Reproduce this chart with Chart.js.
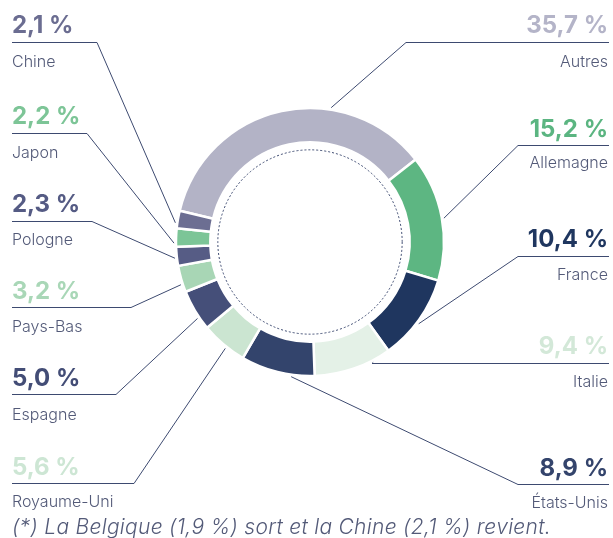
<!DOCTYPE html>
<html>
<head>
<meta charset="utf-8">
<script src="https://cdn.jsdelivr.net/npm/chart.js@4.4.1/dist/chart.umd.min.js"></script>
<style>
html,body{margin:0;padding:0;background:#fff;}
#wrap{width:613px;height:538px;position:relative;}
</style>
</head>
<body>
<div id="wrap"><canvas id="c" width="613" height="538"></canvas></div>
<script>
// ---- data ----
const categories = ['Autres','Allemagne','France','Italie','États-Unis','Royaume-Uni','Espagne','Pays-Bas','Pologne','Japon','Chine'];
const values = [35.7, 15.2, 10.4, 9.4, 8.9, 5.6, 5.0, 3.2, 2.3, 2.2, 2.1];
const footnote = '(*) La Belgique (1,9 %) sort et la Chine (2,1 %) revient.';

// ---- styles ----
const segColors = ['#b3b3c6','#5db682','#1f365f','#e4f1e7','#33446c','#cbe5d1','#454f79','#a8d6b5','#565c85','#7cc597','#6c6e92'];
const valueColors = ['#b4b4c8','#5bb581','#1f365f','#d3e8d8','#34446c','#cde6d4','#434d76','#a9d7b7','#555b84','#7dc597','#6b6d91'];
const nameColor = '#535a78';
const lineColor = '#3d4a70';

// ---- label layout (side, value baseline, underline y, elbow x, name baseline, anchor fraction in slice) ----
const side      = ['R','R','R','R','R','L','L','L','L','L','L'];
const valueBase = [33, 137, 247, 354, 476, 475, 386, 299, 212, 124, 33];
const underY    = [42, 145, 256, 363, 484, 483, 394, 307, 221, 133, 42];
const elbowX    = [406, 518, 518, 372, 518, 134, 116, 131, 92, 87, 97];
const nameBase  = [67, 168, 280, 387, 508, 507, 420, 332, 245, 158, 67];
const anchorFrac= [0.665, 0.51, 0.54, 0.24, 0.31, 0.42, 0.31, 0.3, 0.41, 0.19, 0.29];

const fmt = v => v.toFixed(1).replace('.', ',') + ' %';

const labelPlugin = {
  id: 'labels',
  afterDraw(chart) {
    const ctx = chart.ctx;
    const meta = chart.getDatasetMeta(0);
    const a0 = meta.data[0];
    const cx = a0.x, cy = a0.y;
    ctx.save();
    // dashed inner circle
    ctx.setLineDash([2, 2]);
    ctx.strokeStyle = lineColor;
    ctx.lineWidth = 1;
    ctx.beginPath();
    ctx.arc(cx, cy, a0.innerRadius - 7.5, 0, Math.PI * 2);
    ctx.stroke();
    ctx.setLineDash([]);

    const L = 12, R = 609;
    categories.forEach((name, i) => {
      const arc = meta.data[i];
      const ang = arc.startAngle + anchorFrac[i] * (arc.endAngle - arc.startAngle);
      const rr = arc.outerRadius + 2;
      const ax = cx + rr * Math.cos(ang), ay = cy + rr * Math.sin(ang);
      const uy = underY[i] + 0.5;
      ctx.strokeStyle = lineColor;
      ctx.lineWidth = 1;
      ctx.beginPath();
      if (side[i] === 'L') {
        ctx.moveTo(L, uy); ctx.lineTo(elbowX[i], uy);
      } else {
        ctx.moveTo(R, uy); ctx.lineTo(elbowX[i], uy);
      }
      ctx.lineTo(ax, ay);
      ctx.stroke();

      ctx.textBaseline = 'alphabetic';
      ctx.textAlign = side[i] === 'L' ? 'left' : 'right';
      const tx = side[i] === 'L' ? L : R - 1;
      ctx.fillStyle = valueColors[i];
      ctx.font = '700 24px Inter, "Open Sans", sans-serif';
      ctx.fillText(fmt(values[i]), tx, valueBase[i]);
      ctx.fillStyle = nameColor;
      ctx.font = '300 16px Inter, "Open Sans", sans-serif';
      ctx.fillText(name, tx, nameBase[i]);
    });

    ctx.textAlign = 'left';
    ctx.fillStyle = nameColor;
    ctx.font = 'italic 300 21px Inter, "Open Sans", sans-serif';
    if ('letterSpacing' in ctx) ctx.letterSpacing = '0.3px';
    ctx.fillText(footnote, 12, 534);
    ctx.restore();
  }
};

new Chart(document.getElementById('c'), {
  type: 'doughnut',
  data: {
    labels: categories,
    datasets: [{
      data: values,
      backgroundColor: segColors,
      borderColor: '#ffffff',
      borderWidth: 2.5,
      hoverOffset: 0
    }]
  },
  options: {
    responsive: false,
    animation: false,
    rotation: -76.5,
    radius: 134,
    cutout: 98,
    layout: { padding: { left: 177, right: 170, top: 109, bottom: 163 } },
    plugins: { legend: { display: false }, tooltip: { enabled: false } },
    events: []
  },
  plugins: [labelPlugin]
});
</script>
</body>
</html>
